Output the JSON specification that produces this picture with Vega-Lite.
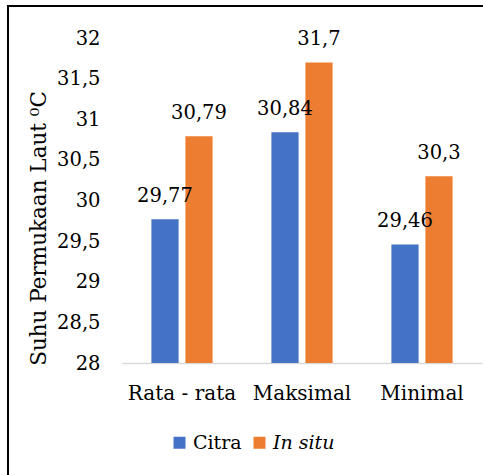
{
  "$schema": "https://vega.github.io/schema/vega-lite/v6.json",
  "width": 490,
  "height": 485,
  "autosize": {"type": "none"},
  "padding": {"left": 8, "top": 6, "right": -15, "bottom": -16},
  "background": "white",
  "config": {
    "locale": {"number": {"decimal": ",", "thousands": ".", "grouping": [3], "currency": ["", ""]}},
    "font": "DejaVu Serif",
    "view": {"stroke": "black", "strokeWidth": 2, "fill": "white"}
  },
  "data": {
    "values": [
      {"kategori": "Rata - rata", "sumber": "Citra", "suhu": 29.77},
      {"kategori": "Rata - rata", "sumber": "In situ", "suhu": 30.79},
      {"kategori": "Maksimal", "sumber": "Citra", "suhu": 30.84},
      {"kategori": "Maksimal", "sumber": "In situ", "suhu": 31.7},
      {"kategori": "Minimal", "sumber": "Citra", "suhu": 29.46},
      {"kategori": "Minimal", "sumber": "In situ", "suhu": 30.3}
    ]
  },
  "encoding": {
    "x": {
      "field": "kategori",
      "type": "nominal",
      "sort": ["Rata - rata", "Maksimal", "Minimal"],
      "scale": {"range": [114, 474], "paddingInner": 0.49, "paddingOuter": 0.245},
      "axis": {
        "title": null,
        "offset": -128,
        "labelAngle": 0,
        "labelFontSize": 20,
        "labelColor": "black",
        "labelPadding": 20,
        "ticks": false,
        "grid": false,
        "domainColor": "#d9d9d9",
        "domainWidth": 1.5
      }
    },
    "xOffset": {
      "field": "sumber",
      "type": "nominal",
      "sort": ["Citra", "In situ"],
      "scale": {"paddingInner": 0.2, "paddingOuter": 0}
    },
    "y": {
      "field": "suhu",
      "type": "quantitative",
      "scale": {"domain": [28, 32], "range": [357, 32], "zero": false, "nice": false},
      "axis": {
        "title": "Suhu Permukaan Laut ⁰C",
        "values": [28, 28.5, 29, 29.5, 30, 30.5, 31, 31.5, 32],
        "format": ".1~f",
        "offset": -114,
        "domain": false,
        "ticks": false,
        "grid": false,
        "labelPadding": 22,
        "labelFontSize": 19.5,
        "labelColor": "black",
        "titleFontSize": 21.5,
        "titleFontWeight": "normal",
        "titleColor": "black",
        "titleX": -77,
        "titleY": 222,
        "titleBaseline": "alphabetic"
      }
    }
  },
  "layer": [
    {
      "mark": {"type": "bar"},
      "encoding": {
        "y2": {"datum": 28},
        "color": {
          "field": "sumber",
          "type": "nominal",
          "scale": {"domain": ["Citra", "In situ"], "range": ["#4472C4", "#ED7D31"]},
          "legend": {
            "title": null,
            "orient": "none",
            "legendX": 162,
            "legendY": 427,
            "direction": "horizontal",
            "padding": 0,
            "symbolType": "square",
            "symbolSize": 144,
            "symbolStrokeWidth": 0,
            "labelFontSize": 19,
            "labelColor": "black",
            "labelOffset": 4,
            "columnPadding": 8,
            "encode": {
              "labels": {
                "update": {
                  "fontStyle": {"signal": "datum.label === 'In situ' ? 'italic' : 'normal'"}
                }
              }
            }
          }
        }
      }
    },
    {
      "mark": {"type": "text", "baseline": "alphabetic", "dy": -17, "fontSize": 19.5, "color": "black"},
      "encoding": {
        "text": {"field": "suhu", "type": "quantitative", "format": ".2~f"}
      }
    }
  ]
}
